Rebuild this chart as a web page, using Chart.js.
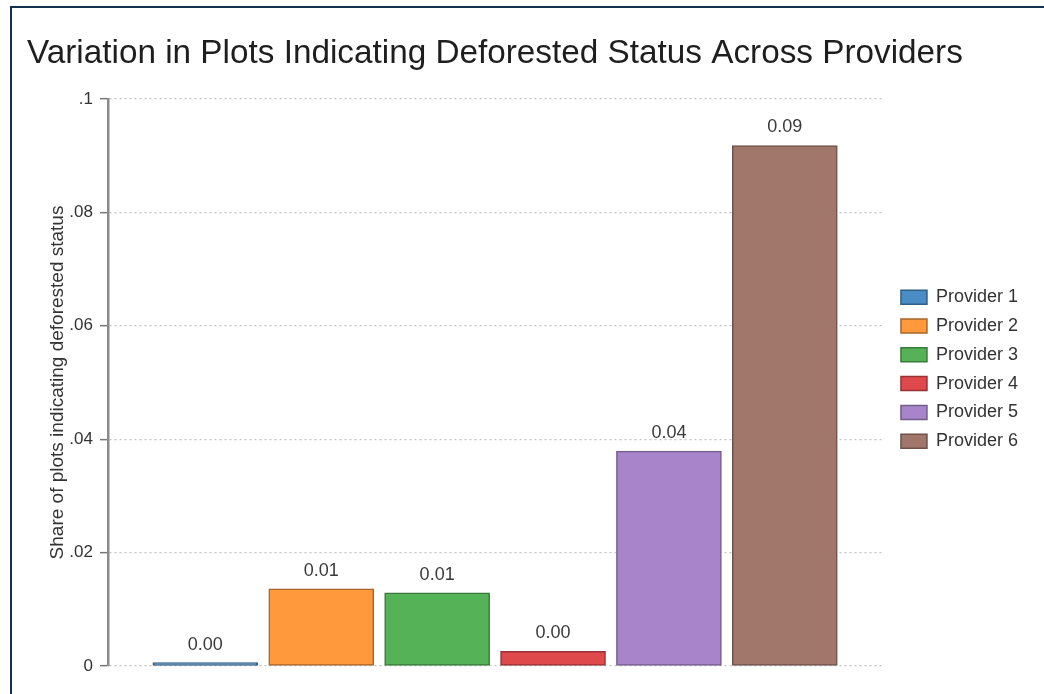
<!DOCTYPE html>
<html>
<head>
<meta charset="utf-8">
<script src="https://cdn.jsdelivr.net/npm/chart.js@4.4.1/dist/chart.umd.min.js"></script>
<style>
  html, body { margin: 0; padding: 0; background: #fff; }
  #wrap { position: relative; width: 1044px; height: 694px; overflow: hidden; }
  #frame { position: absolute; left: 10px; top: 6px; width: 1100px; height: 800px;
           border-left: 2px solid #13304f; border-top: 2px solid #13304f; pointer-events: none; }
  canvas { position: absolute; left: 0; top: 0; }
</style>
</head>
<body>
<div id="wrap">
  <canvas id="c" width="1044" height="694"></canvas>
  <div id="frame"></div>
</div>
<script>
const providers = ["Provider 1", "Provider 2", "Provider 3", "Provider 4", "Provider 5", "Provider 6"];
const shares = [0.0006, 0.0136, 0.0129, 0.0026, 0.0379, 0.0918];
const fillColors = ["#4a8cc4", "#ff993b", "#55b256", "#df494b", "#a885ca", "#a1776c"];
const edgeColors = ["#2f5f86", "#a8652a", "#3a7a3b", "#963234", "#735b8b", "#6e524a"];
const yTicks = [0, 0.02, 0.04, 0.06, 0.08, 0.1];
const yTickLabels = ["0", ".02", ".04", ".06", ".08", ".1"];
const chartTitle = "Variation in Plots Indicating Deforested Status Across Providers";
const yTitle = "Share of plots indicating deforested status";

const FONT = '"Liberation Sans", Arial, sans-serif';

const datasets = providers.map((p, i) => ({
  label: p,
  data: [{ x: i, y: shares[i] }],
  backgroundColor: fillColors[i],
  borderColor: edgeColors[i],
  borderWidth: 1.5,
  borderSkipped: false,
  barThickness: 105,
  grouped: false
}));

const valueLabels = {
  id: 'valueLabels',
  afterDatasetsDraw(chart) {
    const ctx = chart.ctx;
    ctx.save();
    ctx.font = '18px ' + FONT;
    ctx.fillStyle = '#3a3a3a';
    ctx.textAlign = 'center';
    ctx.textBaseline = 'middle';
    chart.data.datasets.forEach((ds, i) => {
      const meta = chart.getDatasetMeta(i);
      meta.data.forEach((el, j) => {
        const v = ds.data[j].y;
        ctx.fillText(v.toFixed(2), el.x, el.y - 18);
      });
    });
    ctx.restore();
  }
};

new Chart(document.getElementById('c'), {
  type: 'bar',
  data: { datasets },
  plugins: [valueLabels],
  options: {
    responsive: false,
    animation: false,
    layout: { padding: { left: 27, right: 16, top: 0, bottom: 28 } },
    plugins: {
      title: {
        display: true,
        text: chartTitle,
        align: 'start',
        color: '#1e1e1e',
        font: { family: FONT, size: 33.3, weight: 'normal' },
        padding: { top: 34, bottom: 25 }
      },
      legend: {
        position: 'right',
        align: 'center',
        title: { display: true, text: ' ', font: { size: 12 }, padding: { top: 29, bottom: 29 } },
        labels: {
          boxWidth: 26,
          boxHeight: 14,
          padding: 10.8,
          color: '#333',
          font: { family: FONT, size: 18 }
        }
      },
      tooltip: { enabled: false }
    },
    scales: {
      x: {
        type: 'linear',
        display: false,
        min: -0.84,
        max: 5.84,
        offset: false
      },
      y: {
        min: 0,
        max: 0.1,
        afterBuildTicks(scale) { scale.ticks = yTicks.map(v => ({ value: v })); },
        afterFit(scale) { scale.width = 81; },
        ticks: {
          padding: 7,
          color: '#333',
          font: { family: FONT, size: 17 },
          callback: (v) => { const k = yTicks.findIndex(t => Math.abs(t - v) < 1e-9); return k >= 0 ? yTickLabels[k] : ''; }
        },
        grid: {
          color: '#c2c2c2',
          lineWidth: 1.3,
          drawTicks: true,
          tickLength: 8,
          tickColor: '#777',
          tickWidth: 1.5,
          tickBorderDash: []
        },
        border: { display: true, color: '#8a8a8a', width: 2.5, dash: [2, 3] },
        title: {
          display: true,
          text: yTitle,
          color: '#333',
          font: { family: FONT, size: 19 },
          padding: { top: 19, bottom: 0 }
        }
      },
      y2: {
        position: 'right',
        display: true,
        min: 0,
        max: 0.1,
        grid: { display: false, drawOnChartArea: false, drawTicks: false },
        ticks: { display: false },
        border: { display: false },
        afterFit(scale) { scale.width = 8; }
      }
    }
  }
});
</script>
</body>
</html>
